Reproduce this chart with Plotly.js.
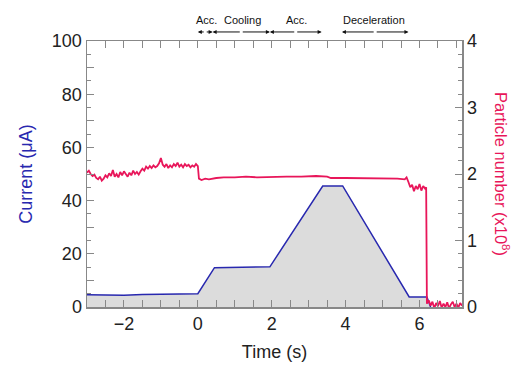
<!DOCTYPE html>
<html><head><meta charset="utf-8">
<script src="https://cdn.plot.ly/plotly-3.0.1.min.js"></script>
<style>html,body{margin:0;padding:0;background:#fff}#chart{width:513px;height:367px}</style>
</head><body><div id="chart"></div>
<script>
// Beam current (μA)
const currentTime = [-3.0, -2.5, -2.0, -1.5, -1.0, -0.5, 0.0, 0.45, 1.0, 1.5, 1.95, 3.38, 3.92, 5.72, 6.2, 6.3];
const currentVal  = [4.6, 4.5, 4.4, 4.7, 4.8, 4.9, 5.0, 14.8, 14.9, 15.0, 15.1, 45.5, 45.5, 3.8, 3.8, 0.0];

// Particle number (x10^8)
const particleTime = [
 -3.00,-2.95,-2.90,-2.85,-2.80,-2.75,-2.70,-2.65,-2.60,-2.55,-2.50,-2.45,-2.40,-2.35,-2.30,-2.25,-2.20,-2.15,-2.10,-2.05,
 -2.00,-1.95,-1.90,-1.85,-1.80,-1.75,-1.70,-1.65,-1.60,-1.55,-1.50,-1.45,-1.40,-1.35,-1.30,-1.25,-1.20,-1.15,-1.10,-1.05,
 -1.00,-0.95,-0.90,-0.85,-0.80,-0.75,-0.70,-0.65,-0.60,-0.55,-0.50,-0.45,-0.40,-0.35,-0.30,-0.25,-0.20,-0.15,-0.10,-0.05,
 0.00,0.03,0.10,0.20,0.30,0.50,0.70,1.00,1.30,1.60,2.00,2.40,2.80,3.20,3.50,3.60,4.00,4.50,5.00,5.40,5.60,
 5.65,5.70,5.75,5.80,5.85,5.90,5.95,6.00,6.05,6.10,6.15,6.18,6.20,6.25,6.30,6.35,6.40,6.45,6.50,6.55,6.60,6.65,6.70,6.75,6.80,6.85,6.90,6.95,7.00,7.05,7.10,7.15
];
const particleVal = [
 2.02,2.05,2.00,1.97,1.99,1.94,1.92,1.96,1.90,1.93,1.98,1.95,2.01,1.97,2.06,1.96,2.00,1.95,2.03,1.98,
 2.04,1.99,1.96,2.02,1.98,2.05,2.00,2.03,1.99,2.04,2.08,2.05,2.11,2.08,2.12,2.09,2.13,2.10,2.12,2.16,
 2.24,2.14,2.11,2.15,2.09,2.13,2.10,2.15,2.12,2.17,2.11,2.14,2.10,2.15,2.12,2.14,2.10,2.13,2.11,2.15,
 2.12,1.93,1.91,1.93,1.92,1.94,1.95,1.95,1.96,1.95,1.96,1.96,1.96,1.97,1.96,1.94,1.94,1.94,1.93,1.93,1.92,
 1.95,1.88,1.80,1.84,1.74,1.82,1.77,1.85,1.75,1.82,1.78,1.80,0.05,0.10,0.02,0.08,-0.02,0.06,0.01,0.09,-0.01,0.05,0.00,0.07,-0.02,0.04,0.08,0.00,0.05,-0.01,0.06,0.02
];

// Phase annotations at the top
const phaseNames = ["Acc.", "Cooling", "Acc.", "Deceleration"];
const phaseStart = [0.0, 0.4, 1.95, 3.9];
const phaseEnd   = [0.4, 1.95, 3.35, 5.7];
const phaseLabelX = [0.24, 1.2, 2.68, 4.78];

// Tick labels
const xTickVals = [-3,-2,-1,0,1,2,3,4,5,6,7];
const xTickText = ["","−2","","0","","2","","4","","6",""];
const yTickVals = [0,10,20,30,40,50,60,70,80,90,100];
const yTickText = ["0","","20","","40","","60","","80","","100"];

const blue = "rgb(40,40,175)";
const red = "rgb(232,22,90)";
const gray = "#888";
const font = "Liberation Sans, Arial, sans-serif";

const traces = [
  {x: currentTime, y: currentVal, type: "scatter", mode: "lines", fill: "tozeroy",
   fillcolor: "rgb(220,220,220)", line: {color: blue, width: 1.5}, yaxis: "y", hoverinfo: "skip"},
  {x: particleTime, y: particleVal, type: "scatter", mode: "lines",
   line: {color: red, width: 1.8}, yaxis: "y2", hoverinfo: "skip"}
];

const annotations = [];
for (let i = 0; i < phaseNames.length; i++) {
  const mid = (phaseStart[i] + phaseEnd[i]) / 2;
  [phaseStart[i], phaseEnd[i]].forEach(end => {
    annotations.push({x: end, y: 1.034, xref: "x", yref: "paper", ax: mid, axref: "x", ay: 0, ayref: "pixel",
      text: "", showarrow: true, arrowhead: 2, arrowsize: 0.8, arrowwidth: 1, arrowcolor: "#111", standoff: 0, startstandoff: 0});
  });
  annotations.push({x: phaseLabelX[i], y: 1.079, xref: "x", yref: "paper", xanchor: "center", yanchor: "middle",
    text: phaseNames[i], showarrow: false, font: {family: font, size: 11, color: "#111"}});
}
annotations.push({x: 1.107, y: 0.5, xref: "paper", yref: "paper", xanchor: "center", yanchor: "middle",
  text: "Particle number (x10<sup>8</sup>)", textangle: 90, showarrow: false, font: {family: font, size: 16.5, color: red}});

const layout = {
  width: 513, height: 367,
  margin: {l: 87, r: 51, t: 41, b: 60},
  paper_bgcolor: "#fff", plot_bgcolor: "#fff",
  showlegend: false,
  font: {family: font, size: 18, color: "#222"},
  xaxis: {range: [-3, 7.15], tickmode: "array", tickvals: xTickVals, ticktext: xTickText,
    ticks: "inside", ticklen: 7, tickcolor: gray, tickwidth: 1,
    minor: {dtick: 0.5, ticks: "inside", ticklen: 4, tickcolor: gray},
    showgrid: false, zeroline: false, showline: true, linecolor: gray, linewidth: 1.5, mirror: "allticks",
    title: {text: "Time (s)", standoff: 12, font: {size: 18}}},
  yaxis: {range: [0, 100], tickmode: "array", tickvals: yTickVals, ticktext: yTickText,
    ticks: "inside", ticklen: 7, tickcolor: gray, tickwidth: 1,
    minor: {dtick: 5, ticks: "inside", ticklen: 4, tickcolor: gray},
    showgrid: false, zeroline: false, showline: true, linecolor: gray, linewidth: 1.5,
    title: {text: "Current (μA)", standoff: 14, font: {size: 18, color: blue}}},
  yaxis2: {range: [0, 4], overlaying: "y", side: "right", dtick: 1,
    ticks: "inside", ticklen: 7, tickcolor: gray, tickwidth: 1,
    minor: {dtick: 0.2, ticks: "inside", ticklen: 4, tickcolor: gray},
    showgrid: false, zeroline: false, showline: true, linecolor: gray, linewidth: 1.5},
  annotations: annotations
};

Plotly.newPlot("chart", traces, layout, {staticPlot: true, displayModeBar: false});
</script>
</body></html>
